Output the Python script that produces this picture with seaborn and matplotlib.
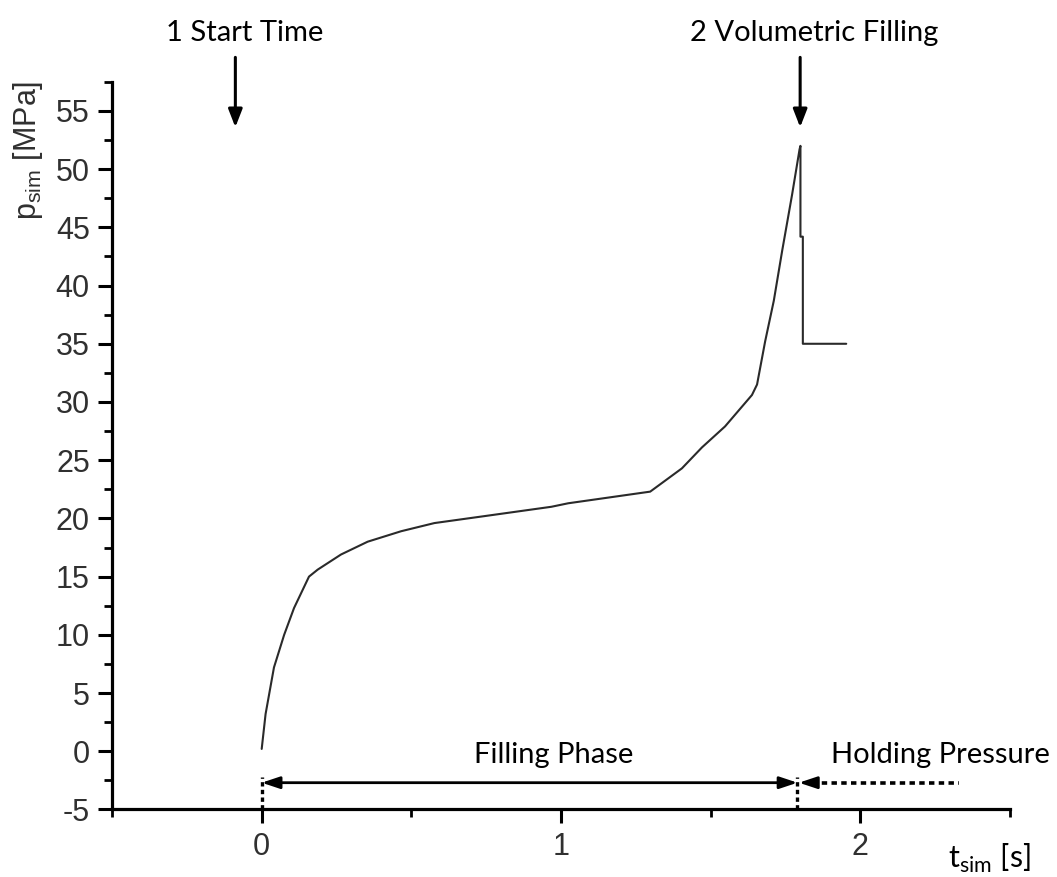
import numpy as np
import pandas as pd
import matplotlib
matplotlib.use("Agg")
import matplotlib.pyplot as plt
import seaborn as sns

# ---- data ----
t_sim = [0.0, 0.013, 0.041, 0.075, 0.108, 0.158, 0.187, 0.265, 0.354, 0.466,
         0.577, 0.745, 0.968, 1.024, 1.298, 1.404, 1.471, 1.548, 1.638, 1.655,
         1.682, 1.711, 1.739, 1.772, 1.797, 1.800, 1.800, 1.808, 1.808, 1.953]
p_sim = [0.2, 3.2, 7.2, 10.0, 12.3, 15.0, 15.6, 16.9, 18.0, 18.9,
         19.6, 20.2, 21.0, 21.3, 22.3, 24.3, 26.1, 27.9, 30.6, 31.5,
         35.2, 38.7, 43.0, 47.8, 51.7, 52.0, 44.2, 44.2, 35.0, 35.0]
x_ticks = [0, 1, 2]
y_ticks = [-5, 0, 5, 10, 15, 20, 25, 30, 35, 40, 45, 50, 55]
start_time = 0.0
fill_end = 1.79
hold_end = 2.33

df = pd.DataFrame({"t": t_sim, "p": p_sim})

sns.set_theme(style="ticks")
plt.rcParams["font.family"] = ["Liberation Sans", "DejaVu Sans"]
plt.rcParams["mathtext.fontset"] = "custom"
plt.rcParams["mathtext.rm"] = "Lato"
plt.rcParams["mathtext.sf"] = "Liberation Sans"

fig = plt.figure(figsize=(10.57, 8.77), dpi=100)
ax = fig.add_axes([0.1060, 0.0770, 0.8495, 0.8297])

sns.lineplot(data=df, x="t", y="p", ax=ax, color="#2a2a2a", linewidth=1.5,
             estimator=None, sort=False)

ax.set_xlim(-0.5, 2.5)
ax.set_ylim(-5, 57.5)
ax.set_xticks(x_ticks)
ax.set_xticks([-0.5, 0.5, 1.5, 2.5], minor=True)
ax.set_yticks(y_ticks)
ax.set_yticks(np.arange(-2.5, 58, 5), minor=True)
ax.set_xticklabels([str(v) for v in x_ticks])
ax.set_yticklabels([str(v) for v in y_ticks])
ax.set_xlabel("")
ax.set_ylabel("")

for s in ["top", "right"]:
    ax.spines[s].set_visible(False)
for s in ["left", "bottom"]:
    ax.spines[s].set_linewidth(2.3)
    ax.spines[s].set_color("black")

ax.tick_params(axis="both", which="major", direction="out", length=10, width=2.2,
               color="black", labelsize=22, labelcolor="#303030", pad=6)
ax.tick_params(axis="both", which="minor", direction="out", length=5.5, width=2.0,
               color="black")

# axis labels
ax.text(-0.78, 51.6, r"p$_{\mathsf{sim}}$ [MPa]", rotation=90, ha="center", va="center",
        fontsize=22, color="#303030", clip_on=False)
ax.text(2.432, -10.0, r"t$_{\mathrm{sim}}$ [s]", ha="center", va="baseline",
        fontsize=22, family="Lato", color="black", clip_on=False)

# top annotations
ax.text(-0.057, 61.0, "1 Start Time", ha="center", va="baseline", fontsize=21,
        family="Lato", color="black", clip_on=False)
ax.text(1.845, 61.0, "2 Volumetric Filling", ha="center", va="baseline", fontsize=21,
        family="Lato", color="black", clip_on=False)
for tx in [-0.088, 1.799]:
    ax.annotate("", xy=(tx, 53.6), xytext=(tx, 59.6), annotation_clip=False,
                arrowprops=dict(arrowstyle="-|>,head_length=0.9,head_width=0.35",
                                color="black", lw=2.2, shrinkA=0, shrinkB=0))

# phase annotations
ax.text(0.975, -1.0, "Filling Phase", ha="center", va="baseline", fontsize=21,
        family="Lato", color="black")
ax.text(2.268, -1.0, "Holding Pressure", ha="center", va="baseline", fontsize=21,
        family="Lato", color="black", clip_on=False)

for tx in [start_time, fill_end]:
    ax.plot([tx, tx], [-5, -2.2], color="black", lw=2.4, linestyle=(0, (1.3, 1.0)),
            clip_on=False)

ax.annotate("", xy=(start_time, -2.7), xytext=(fill_end, -2.7), annotation_clip=False,
            arrowprops=dict(arrowstyle="<|-|>,head_length=0.9,head_width=0.3",
                            color="black", lw=2.0, shrinkA=0, shrinkB=0))
ax.plot([fill_end + 0.05, hold_end], [-2.7, -2.7], color="black", lw=2.6,
        linestyle=(0, (1.5, 1.2)), clip_on=False)
ax.annotate("", xy=(fill_end + 0.005, -2.7), xytext=(fill_end + 0.06, -2.7),
            annotation_clip=False,
            arrowprops=dict(arrowstyle="-|>,head_length=0.9,head_width=0.3",
                            color="black", lw=2.0, shrinkA=0, shrinkB=0))

fig.savefig("out.png", dpi=100)
